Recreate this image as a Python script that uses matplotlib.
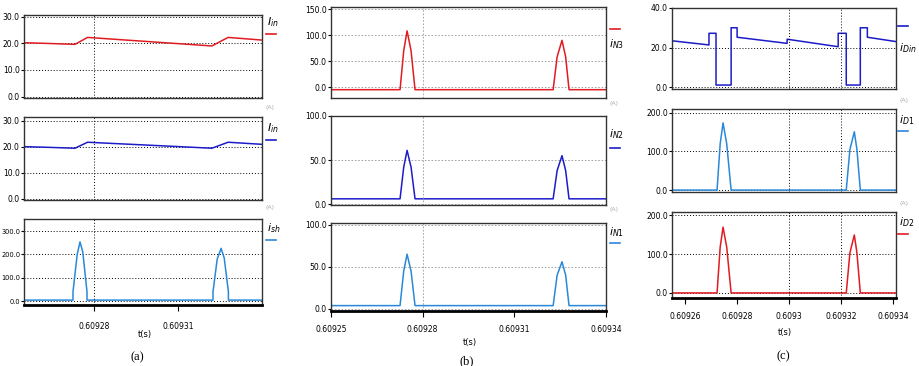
import matplotlib
matplotlib.use("Agg")
import matplotlib.pyplot as plt

W, H = 919, 366

# ---- data ----
# (a) input current, inductor current, shunt current
t_a = [0.609255, 0.609262, 0.6092732, 0.6092777, 0.6093221, 0.6093279, 0.60934]
i_in_red = [20.2, 20.0, 19.6, 22.2, 19.0, 22.2, 21.2]
i_in_blue = [20.0, 19.8, 19.4, 21.7, 19.4, 21.7, 20.9]
t_sh = [0.609255, 0.6092725, 0.6092725, 0.609274, 0.609275, 0.609276, 0.6092775, 0.6092775,
        0.6093225, 0.6093225, 0.609324, 0.6093254, 0.6093265, 0.609328, 0.609328, 0.60934]
i_sh = [4, 4, 40, 200, 254, 210, 40, 4, 4, 40, 180, 226, 185, 40, 4, 4]

# (b) winding currents
t_b = [0.60925, 0.6092726, 0.6092738, 0.6092749, 0.6092762, 0.6092775,
       0.6093227, 0.609324, 0.6093256, 0.6093268, 0.6093279, 0.60934]
i_n3 = [-5, -5, 70, 108, 70, -5, -5, 58, 90, 58, -5, -5]
i_n2 = [6, 6, 42, 61, 42, 6, 6, 38, 55, 38, 6, 6]
i_n1 = [4, 4, 45, 65, 45, 4, 4, 40, 56, 40, 4, 4]

# (c) diode currents
t_din = [0.609255, 0.6092692, 0.6092692, 0.6092719, 0.6092719, 0.6092777, 0.6092777, 0.60928,
         0.60928, 0.6092992, 0.6092992, 0.6093188, 0.6093188, 0.6093219, 0.6093219, 0.6093273,
         0.6093273, 0.60933, 0.60933, 0.609341]
i_din = [23.4, 21.3, 27.2, 27.2, 1.0, 1.0, 30.0, 30.0, 25.2, 22.1, 24.2, 20.4, 27.2, 27.2,
         1.0, 1.0, 30.0, 30.0, 25.2, 23.0]
t_d = [0.609255, 0.6092723, 0.6092735, 0.6092746, 0.609276, 0.6092777,
       0.6093219, 0.6093233, 0.609325, 0.609326, 0.6093273, 0.609341]
i_d1 = [0, 0, 120, 174, 120, 0, 0, 105, 151, 105, 0, 0]
i_d2 = [0, 0, 118, 169, 118, 0, 0, 103, 149, 103, 0, 0]

xt_a = [0.60928, 0.60931]
xt_b = [0.60925, 0.60928, 0.60931, 0.60934]
xl_b = ["0.60925", "0.60928", "0.60931", "0.60934"]
xt_c = [0.60926, 0.60928, 0.6093, 0.60932, 0.60934]
xl_c = ["0.60926", "0.60928", "0.6093", "0.60932", "0.60934"]

RED = "#e01b22"
BLUE = "#1c1cc8"
LBLUE = "#2a88d8"

fig = plt.figure(figsize=(W / 100, H / 100), dpi=100)


def box(l, t, r, b):
    return [l / W, 1 - b / H, (r - l) / W, (b - t) / H]


def panel(rect, x, y, color, xlim, ylim, yticks, yfmt, vgrid, hgrid_style, bottom=False, yfs=5.5):
    ax = fig.add_axes(box(*rect))
    ax.plot(x, y, color=color, lw=1.1)
    ax.set_xlim(*xlim)
    ax.set_ylim(*ylim)
    ax.set_yticks(yticks)
    ax.set_yticklabels([yfmt % v for v in yticks], fontsize=yfs)
    ax.tick_params(axis="y", length=2, pad=1)
    ax.grid(axis="y", **hgrid_style)
    for v in vgrid:
        ax.axvline(v, **hgrid_style)
    for s in ax.spines.values():
        s.set_linewidth(1.0)
        s.set_color("#333333")
    if bottom:
        ax.spines["bottom"].set_linewidth(2.0)
        ax.spines["bottom"].set_color("black")
    else:
        ax.set_xticks([])
    return ax


def label(x, y, txt, color, line_y, line_x):
    fig.text(x / W, 1 - y / H, txt, fontsize=8, ha="left", va="center")
    fig.lines.append(plt.Line2D([line_x / W, (line_x + 10) / W], [1 - line_y / H, 1 - line_y / H],
                                color=color, lw=1.2, transform=fig.transFigure))


def unit(x, y):
    fig.text(x / W, 1 - y / H, "(A)", fontsize=4.5, color="#aaaaaa", ha="left", va="center")


dot_k = dict(color="black", ls=(0, (1, 2)), lw=0.7)
dash_g = dict(color="#999999", ls=(0, (2, 2)), lw=0.6)

# ---- column (a) ----
xa = (0.609255, 0.60934)
panel((24, 15, 262, 98), t_a, i_in_red, RED, xa, (-0.5, 30.6), [0, 10, 20, 30], "%.1f", [0.60928], dot_k)
panel((24, 117, 262, 200), t_a, i_in_blue, BLUE, xa, (-0.5, 31.4), [0, 10, 20, 30], "%.1f", [0.60928], dot_k)
ax = panel((24, 219, 262, 305), t_sh, i_sh, LBLUE, xa, (-17, 352), [0, 100, 200, 300], "%.1f",
           [0.60928], dot_k, bottom=True, yfs=4.8)
ax.tick_params(axis="y", pad=0.5)
ax.set_xticks(xt_a)
ax.set_xticklabels(["0.60928", "0.60931"], fontsize=5.5)
ax.tick_params(axis="x", length=4, pad=8)
fig.text(145 / W, 1 - 335 / H, "t(s)", fontsize=6, ha="center", va="center")
fig.text(137 / W, 1 - 357 / H, "(a)", fontsize=9, family="Liberation Serif", ha="center", va="center")
label(267, 22, r"$I_{in}$", RED, 34, 266)
label(267, 128, r"$I_{in}$", BLUE, 140, 266)
label(267, 228, r"$i_{sh}$", LBLUE, 240, 266)
unit(266, 108)
unit(266, 207)

# ---- column (b) ----
xb = (0.60925, 0.60934)
panel((331, 7, 606, 98), t_b, i_n3, RED, xb, (-21, 154), [0, 50, 100, 150], "%.1f", [0.60928], dash_g)
panel((331, 116, 606, 205), t_b, i_n2, BLUE, xb, (-1, 100), [0, 50, 100], "%.1f", [0.60928], dash_g)
ax = panel((331, 223, 606, 311), t_b, i_n1, LBLUE, xb, (-2.4, 102), [0, 50, 100], "%.1f",
           [0.60928], dash_g, bottom=True)
ax.set_xticks(xt_b)
ax.set_xticklabels(xl_b, fontsize=5.5)
ax.tick_params(axis="x", length=4, pad=6)
fig.text(470 / W, 1 - 342 / H, "t(s)", fontsize=6, ha="center", va="center")
fig.text(467 / W, 1 - 361 / H, "(b)", fontsize=9, family="Liberation Serif", ha="center", va="center")
label(609, 44, r"$i_{N3}$", RED, 29, 610)
label(609, 134, r"$i_{N2}$", BLUE, 148, 610)
label(609, 232, r"$i_{N1}$", LBLUE, 243, 610)
unit(609, 103)
unit(609, 210)

# ---- column (c) ----
xc = (0.609255, 0.609341)
panel((672, 8, 896, 89), t_din, i_din, BLUE, xc, (-1, 40), [0, 20, 40], "%.1f", [0.6093, 0.60932], dot_k)
panel((672, 109, 896, 192), t_d, i_d1, LBLUE, xc, (-5, 210), [0, 100, 200], "%.1f", [0.6093, 0.60932], dot_k)
ax = panel((672, 212, 896, 298), t_d, i_d2, RED, xc, (-13, 208), [0, 100, 200], "%.1f",
           [0.6093, 0.60932], dot_k, bottom=True)
ax.set_xticks(xt_c)
ax.set_xticklabels(xl_c, fontsize=5.5)
ax.tick_params(axis="x", length=4, pad=6)
fig.text(785 / W, 1 - 332 / H, "t(s)", fontsize=6, ha="center", va="center")
fig.text(783 / W, 1 - 356 / H, "(c)", fontsize=9, family="Liberation Serif", ha="center", va="center")
label(899, 48, r"$i_{Din}$", BLUE, 26, 898)
label(899, 120, r"$i_{D1}$", LBLUE, 131, 898)
label(899, 222, r"$i_{D2}$", RED, 234, 898)
unit(899, 100)
unit(899, 204)

fig.savefig("out.png", dpi=100)
